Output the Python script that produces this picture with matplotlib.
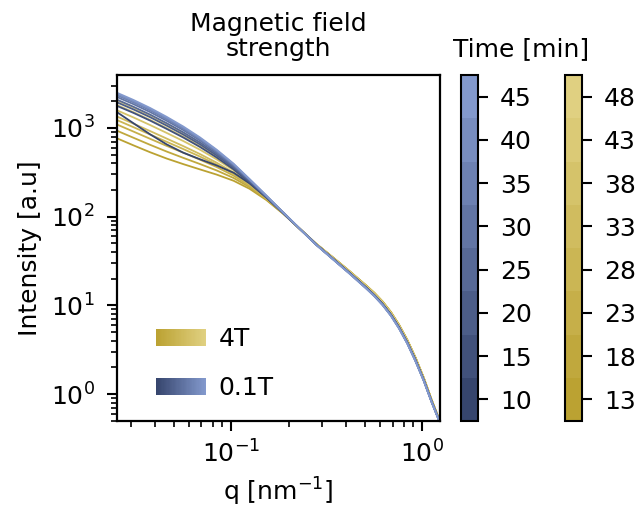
import numpy as np
import matplotlib
matplotlib.use('Agg')
import matplotlib.pyplot as plt
from matplotlib.colors import LinearSegmentedColormap, ListedColormap, BoundaryNorm
from matplotlib.cm import ScalarMappable
from matplotlib.legend_handler import HandlerBase
from matplotlib.patches import Rectangle

plt.rcParams['font.family'] = ['DejaVu Sans']
plt.rcParams['font.size'] = 18

# scattering vector [nm^-1]
q = [0.0252, 0.0308, 0.0377, 0.046, 0.0562, 0.0687, 0.084, 0.103, 0.125, 0.153, 0.187,
     0.229, 0.279, 0.341, 0.417, 0.509, 0.562, 0.621, 0.686, 0.757, 0.836, 0.923, 1.02, 1.12, 1.24]

# 0.1T, time in minutes
time_01T = [10, 15, 20, 25, 30, 35, 40, 45]
blue_10 = [1514, 1132, 847, 653, 526, 444, 378, 313, 237, 164, 110,
           72.8, 48.6, 33.7, 23.3, 15.96, 13.09, 10.40, 7.91, 5.68, 3.84, 2.43, 1.445, 0.832, 0.4786]
blue_15 = [1778, 1480, 1210, 976, 780, 611, 465, 342, 242, 165, 110,
           72.8, 48.52, 33.58, 23.20, 15.87, 13.01, 10.33, 7.86, 5.64, 3.81, 2.41, 1.437, 0.829, 0.4773]
blue_20 = [1950, 1620, 1322, 1062, 842, 654, 491, 356, 248, 167, 111,
           72.8, 48.43, 33.47, 23.09, 15.79, 12.93, 10.27, 7.80, 5.60, 3.79, 2.40, 1.429, 0.825, 0.476]
blue_25 = [2089, 1734, 1413, 1131, 892, 687, 512, 367, 253, 168, 111,
           72.8, 48.38, 33.39, 23.03, 15.73, 12.88, 10.22, 7.77, 5.58, 3.77, 2.39, 1.424, 0.823, 0.4751]
blue_30 = [2239, 1857, 1510, 1205, 946, 723, 533, 378, 258, 170, 112,
           72.8, 48.32, 33.31, 22.96, 15.67, 12.83, 10.18, 7.73, 5.55, 3.75, 2.37, 1.419, 0.821, 0.4742]
blue_35 = [2344, 1943, 1578, 1257, 983, 748, 548, 385, 261, 171, 112,
           72.8, 48.26, 33.24, 22.89, 15.62, 12.78, 10.13, 7.69, 5.52, 3.74, 2.36, 1.414, 0.819, 0.4734]
blue_40 = [2427, 2010, 1631, 1297, 1012, 766, 559, 391, 263, 172, 112,
           72.8, 48.21, 33.16, 22.82, 15.56, 12.72, 10.09, 7.66, 5.50, 3.72, 2.35, 1.408, 0.816, 0.4725]
blue_45 = [2500, 2070, 1679, 1334, 1038, 783, 569, 396, 265, 173, 112,
           72.8, 48.15, 33.08, 22.75, 15.50, 12.67, 10.04, 7.62, 5.47, 3.70, 2.34, 1.403, 0.814, 0.4716]

# 4T, time in minutes
time_4T = [13, 18, 23, 28, 33, 38, 43, 48]
gold_13 = [766, 637, 532, 452, 391, 341, 298, 254, 206, 154, 108,
           72.8, 49.4, 34.8, 24.3, 16.8, 13.85, 11.06, 8.43, 6.05, 4.09, 2.58, 1.521, 0.865, 0.491]
gold_18 = [933, 776, 645, 542, 460, 392, 332, 273, 215, 157, 109,
           72.8, 49.34, 34.71, 24.23, 16.74, 13.80, 11.01, 8.39, 6.02, 4.07, 2.57, 1.516, 0.863, 0.490]
gold_23 = [1096, 911, 754, 628, 526, 439, 363, 290, 222, 159, 110,
           72.8, 49.29, 34.63, 24.16, 16.68, 13.74, 10.96, 8.36, 6.00, 4.05, 2.56, 1.510, 0.860, 0.489]
gold_28 = [1230, 1021, 843, 698, 578, 476, 386, 303, 228, 161, 110,
           72.8, 49.23, 34.54, 24.09, 16.62, 13.69, 10.91, 8.32, 5.97, 4.03, 2.55, 1.505, 0.858, 0.488]
gold_33 = [1349, 1120, 922, 759, 624, 508, 406, 314, 232, 163, 110,
           72.8, 49.17, 34.46, 24.01, 16.56, 13.63, 10.87, 8.28, 5.94, 4.02, 2.53, 1.499, 0.855, 0.488]
gold_38 = [1585, 1315, 1078, 879, 712, 569, 443, 334, 240, 165, 111,
           72.8, 49.11, 34.37, 23.94, 16.50, 13.58, 10.82, 8.24, 5.91, 4.00, 2.52, 1.494, 0.853, 0.487]
gold_43 = [1820, 1509, 1233, 997, 798, 627, 478, 352, 248, 167, 111,
           72.8, 49.06, 34.29, 23.87, 16.44, 13.52, 10.77, 8.21, 5.89, 3.98, 2.51, 1.488, 0.850, 0.486]
gold_48 = [2042, 1692, 1379, 1108, 878, 680, 509, 367, 254, 169, 112,
           72.8, 49.0, 34.2, 23.8, 16.38, 13.47, 10.72, 8.17, 5.86, 3.96, 2.50, 1.483, 0.848, 0.485]

curves_01T = [blue_10, blue_15, blue_20, blue_25, blue_30, blue_35, blue_40, blue_45]
curves_4T = [gold_13, gold_18, gold_23, gold_28, gold_33, gold_38, gold_43, gold_48]

blue_cmap = LinearSegmentedColormap.from_list('b01', ['#36456d', '#8399cd'])
gold_cmap = LinearSegmentedColormap.from_list('g4', ['#bba232', '#e0d081'])
blue_list = ListedColormap(blue_cmap(np.linspace(0, 1, 8)))
gold_list = ListedColormap(gold_cmap(np.linspace(0, 1, 8)))
blue_norm = BoundaryNorm([t - 2.5 for t in time_01T] + [time_01T[-1] + 2.5], 8)
gold_norm = BoundaryNorm([t - 2.5 for t in time_4T] + [time_4T[-1] + 2.5], 8)


class GradientHandler(HandlerBase):
    def __init__(self, cmap):
        super().__init__()
        self.cmap = cmap

    def create_artists(self, legend, orig_handle, xdescent, ydescent,
                       width, height, fontsize, trans):
        n = 40
        step = width / n
        return [Rectangle((-xdescent + i * step, -ydescent), step * 1.1, height,
                          facecolor=self.cmap(i / (n - 1)), edgecolor='none',
                          transform=trans) for i in range(n)]


W, H = 638, 509
fig = plt.figure(figsize=(W / 100, H / 100), dpi=100)
ax = fig.add_axes([117 / W, 1 - 421 / H, 323 / W, 346 / H])

for t, vals in zip(time_4T, curves_4T):
    ax.plot(q, vals, color=gold_list(gold_norm(t)), lw=1.3)
for t, vals in zip(time_01T, curves_01T):
    ax.plot(q, vals, color=blue_list(blue_norm(t)), lw=1.3)

ax.set_xscale('log')
ax.set_yscale('log')
ax.set_xlim(0.0253, 1.24)
ax.set_ylim(0.497, 3950)
ax.set_xlabel('q [nm$^{-1}$]', labelpad=6)
ax.set_ylabel('Intensity [a.u]', labelpad=6)
ax.set_title('Magnetic field\nstrength', pad=14, fontsize=18, linespacing=1.05)
for s in ax.spines.values():
    s.set_linewidth(1.6)
ax.tick_params(which='major', length=7, width=1.5, labelsize=18)
ax.tick_params(axis='y', which='major', pad=9)
ax.tick_params(axis='x', which='major', pad=7)
ax.tick_params(which='minor', length=4, width=1.2)

h4 = Rectangle((0, 0), 1, 1)
h01 = Rectangle((0, 0), 1, 1)
ax.legend([h4, h01], ['4T', '0.1T'],
          handler_map={h4: GradientHandler(gold_cmap), h01: GradientHandler(blue_cmap)},
          loc='lower left', bbox_to_anchor=(0.121, 0.06), borderaxespad=0, borderpad=0,
          frameon=False, handlelength=2.0, handleheight=0.68, handletextpad=0.5,
          labelspacing=1.0, fontsize=18)

for left, cm, nm, ticks in [(461, blue_list, blue_norm, time_01T), (565, gold_list, gold_norm, time_4T)]:
    cax = fig.add_axes([left / W, 1 - 421 / H, 17 / W, 346 / H])
    cb = fig.colorbar(ScalarMappable(norm=nm, cmap=cm), cax=cax, ticks=ticks)
    cb.outline.set_linewidth(1.5)
    cax.minorticks_off()
    cax.tick_params(length=7, width=1.5, pad=9, labelsize=18)

fig.text(521 / W, 1 - 49 / H, 'Time [min]', ha='center', va='center', fontsize=18)

fig.savefig('out.png', dpi=100)
